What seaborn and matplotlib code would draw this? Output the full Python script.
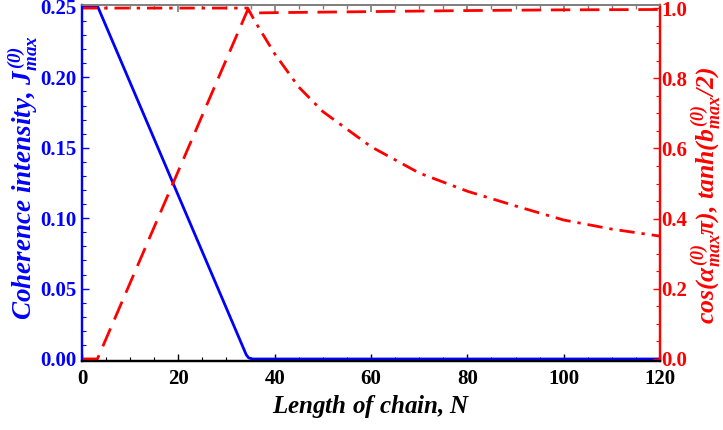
import matplotlib
matplotlib.use("Agg")
import matplotlib.pyplot as plt
import seaborn as sns
import pandas as pd
from matplotlib.ticker import MultipleLocator

# ---- data ----
n_j = [0, 3.3, 34.1, 34.6, 35.4, 120]
j_max = [0.25, 0.25, 0.003, 0.0008, 0.0, 0.0]

n_tanh = [0, 3.2, 34.4, 35.0, 40, 60, 80, 100, 120]
tanh_b = [0.0, 0.0, 0.995, 0.986, 0.987, 0.990, 0.993, 0.995, 0.996]

n_cos = [0, 34.4, 36, 38, 40, 45, 50, 55, 60, 70, 80, 90, 100, 110, 120]
cos_a = [1.0, 1.0, 0.96, 0.915, 0.87, 0.775, 0.705, 0.655, 0.605, 0.530,
         0.478, 0.436, 0.396, 0.370, 0.350]

x_ticks = [0, 20, 40, 60, 80, 100, 120]
left_ticks = [0.00, 0.05, 0.10, 0.15, 0.20, 0.25]
right_ticks = [0.0, 0.2, 0.4, 0.6, 0.8, 1.0]

df_j = pd.DataFrame({"N": n_j, "J": j_max})
df_t = pd.DataFrame({"N": n_tanh, "T": tanh_b})
df_c = pd.DataFrame({"N": n_cos, "C": cos_a})

sns.set_theme(style="ticks")
plt.rcParams['font.family'] = ['Liberation Serif']
plt.rcParams['font.weight'] = 'bold'
plt.rcParams['mathtext.fontset'] = 'custom'
plt.rcParams['mathtext.it'] = 'Liberation Serif:bold:italic'
plt.rcParams['mathtext.rm'] = 'Liberation Serif:bold:italic'
plt.rcParams['mathtext.bf'] = 'Liberation Serif:bold:italic'

BLUE = "#0000ff"
RED = "#ff0000"

fig = plt.figure(figsize=(7.23, 4.30), dpi=100)
ax = fig.add_axes([0.1134, 0.1612, 0.7995, 0.8265])
ax2 = ax.twinx()

sns.lineplot(data=df_j, x="N", y="J", ax=ax, color=BLUE, lw=2.0, estimator=None)
sns.lineplot(data=df_t, x="N", y="T", ax=ax2, color=RED, lw=2.0, estimator=None)
sns.lineplot(data=df_c, x="N", y="C", ax=ax2, color=RED, lw=2.0, estimator=None)
lines2 = ax2.get_lines()
lines2[0].set_dashes([7, 3.5])
lines2[1].set_dashes([5.5, 2.5, 1.2, 2.5])

ax.set_xlim(0, 120)
ax.set_ylim(-0.0012, 0.2512)
ax2.set_ylim(-0.005, 1.008)

ax.set_xticks(x_ticks)
ax.set_yticks(left_ticks)
ax2.set_yticks(right_ticks)
ax.set_xticklabels([str(v) for v in x_ticks])
ax.set_yticklabels([f"{v:.2f}" for v in left_ticks])
ax2.set_yticklabels([f"{v:.1f}" for v in right_ticks])
ax.xaxis.set_minor_locator(MultipleLocator(5))
ax.yaxis.set_minor_locator(MultipleLocator(0.01))
ax2.yaxis.set_minor_locator(MultipleLocator(0.05))

fs = 15
ax.tick_params(axis='x', which='both', direction='in', colors='black',
               labelsize=fs, pad=6)
ax.tick_params(axis='x', which='major', length=5, width=1)
ax.tick_params(axis='x', which='minor', length=3, width=0.8)
ax.tick_params(axis='y', which='both', direction='in', colors=BLUE,
               labelsize=fs, pad=4)
ax.tick_params(axis='y', which='major', length=5, width=1)
ax.tick_params(axis='y', which='minor', length=3, width=0.8)
ax2.tick_params(axis='y', which='both', direction='in', colors=RED,
                labelsize=fs, pad=1)
ax2.tick_params(axis='y', which='major', length=5, width=1)
ax2.tick_params(axis='y', which='minor', length=3, width=0.8)
for lab in ax.get_xticklabels() + ax.get_yticklabels() + ax2.get_yticklabels():
    lab.set_fontweight('bold')

sec = ax.secondary_xaxis('top')
sec.set_xticks(x_ticks)
sec.xaxis.set_minor_locator(MultipleLocator(5))
sec.tick_params(which='both', direction='in', colors='gray', labeltop=False)
sec.tick_params(which='major', length=5)
sec.tick_params(which='minor', length=3)
sec.spines['top'].set_color('gray')

for a in (ax, ax2):
    a.spines['left'].set_color(BLUE)
    a.spines['right'].set_color(RED)
    a.spines['bottom'].set_color('black')
    a.spines['top'].set_color('gray')
    for s in ('left', 'right', 'bottom'):
        a.spines[s].set_linewidth(1.6)
    a.spines['top'].set_linewidth(1.2)
    a.spines['top'].set_visible(True)
    a.spines['right'].set_visible(True)

ax.set_xlabel("Length of chain, $N$", fontsize=18, fontstyle='italic',
              fontweight='bold', color='black', labelpad=3)
ax.set_ylabel("Coherence intensity, $J^{(0)}_{max}$", fontsize=19.5,
              fontstyle='italic', fontweight='bold', color=BLUE)
ax.yaxis.set_label_coords(-0.072, 0.515)
ax2.set_ylabel(r"cos($\alpha^{(0)}_{max}\pi$), tanh($b^{(0)}_{max}/2$)",
               fontsize=18.5, fontstyle='italic', fontweight='bold',
               color=RED, rotation=90)
ax2.yaxis.set_label_coords(1.05, 0.465)

fig.savefig("out.png", dpi=100)
